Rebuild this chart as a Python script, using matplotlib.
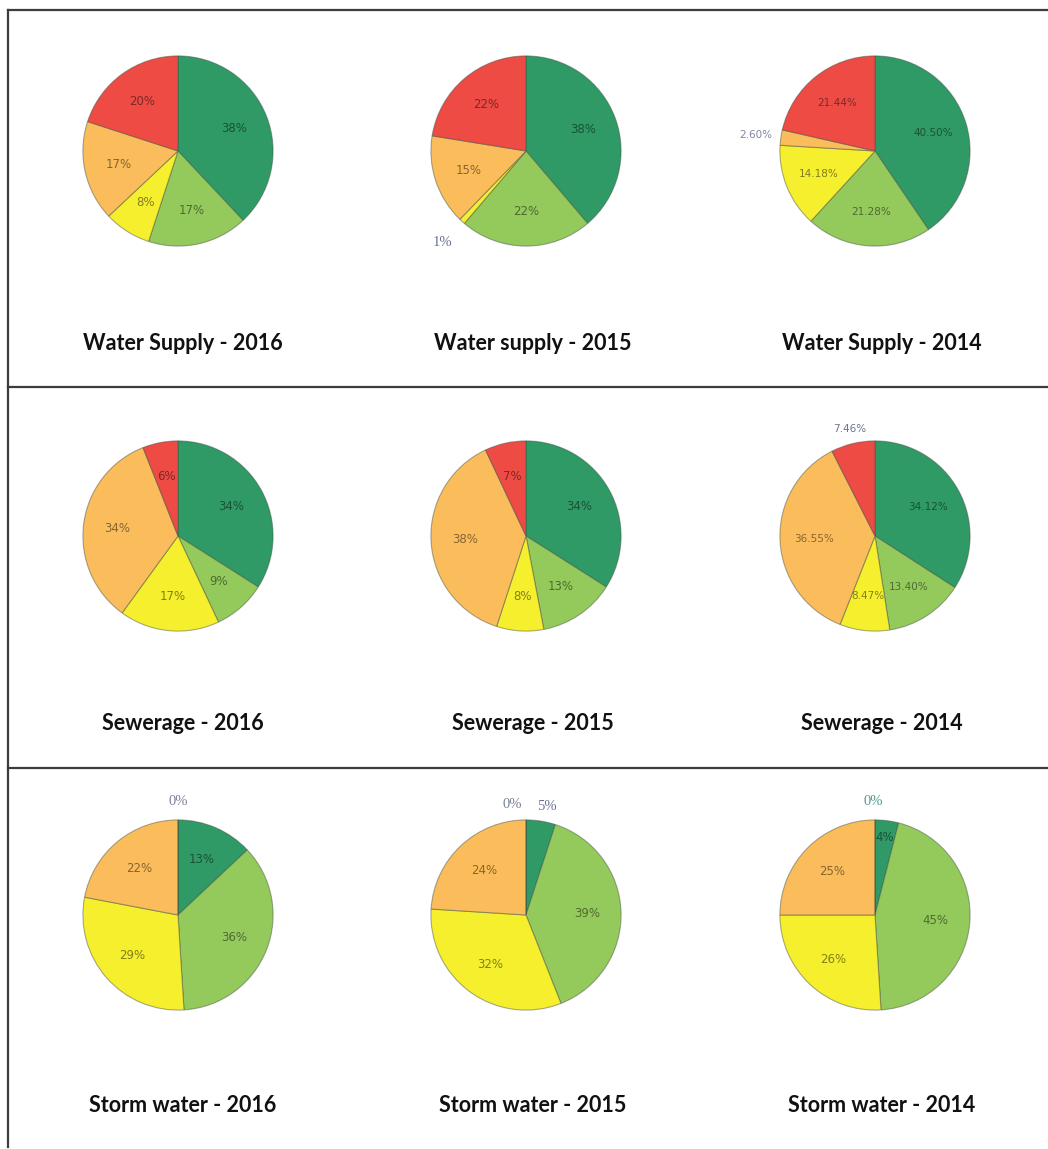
import numpy as np
import matplotlib
matplotlib.use('Agg')
import matplotlib.pyplot as plt
from matplotlib.lines import Line2D
from matplotlib.colors import to_rgb

# datos (orden de las porciones: verde oscuro, verde claro, amarillo, naranja, rojo)
ws_2016 = [38, 17, 8, 17, 20]
ws_2015 = [38, 22, 1, 15, 22]
ws_2014 = [40.50, 21.28, 14.18, 2.60, 21.44]

sew_2016 = [34, 9, 17, 34, 6]
sew_2015 = [34, 13, 8, 38, 7]
sew_2014 = [34.12, 13.40, 8.47, 36.55, 7.46]

storm_2016 = [13, 36, 29, 22, 0]
storm_2015 = [5, 39, 32, 24, 0]
storm_2014 = [4, 45, 26, 25, 0]

titles = [['Water Supply - 2016', 'Water supply - 2015', 'Water Supply - 2014'],
          ['Sewerage - 2016', 'Sewerage - 2015', 'Sewerage - 2014'],
          ['Storm water - 2016', 'Storm water - 2015', 'Storm water - 2014']]
values = [[ws_2016, ws_2015, ws_2014],
          [sew_2016, sew_2015, sew_2014],
          [storm_2016, storm_2015, storm_2014]]
decimals = [[0, 0, 2], [0, 0, 2], [0, 0, 0]]

colors = ['#2f9a66', '#94c95c', '#f5ef2e', '#fbbd5c', '#ee4b45']

# ---------------- layout (pixeles) ----------------
W, H = 1048, 1149
col_x = [178, 526, 875]
row_y = [151, 536, 915]
title_y = [344, 724, 1106]
title_x = [183, 533, 882]
R = 97

# etiquetas fuera de la torta: (fila, col) -> {indice: (distancia, corrimiento_x px, color)}
outside = {
    (0, 1): {2: (1.30, 0, '#6b7394')},
    (0, 2): {3: (1.22, -4, '#7f86a0')},
    (1, 2): {4: (1.16, 0, '#6b7394')},
    (2, 0): {4: (1.19, 0, '#7b8298')},
    (2, 1): {0: (1.16, 4, '#6b7394'), 4: (1.16, -14, '#7b8298')},
    (2, 2): {4: (1.19, -2, '#4f9a8c')},
}
# etiquetas internas con otra distancia
inside_dist = {(2, 2): {0: 0.82}}


def darker(c, f=0.45):
    r, g, b = to_rgb(c)
    return (r * f, g * f, b * f)


fig = plt.figure(figsize=(W / 100, H / 100), dpi=100)
fig.patch.set_facecolor('white')

for i in range(3):
    for j in range(3):
        cx, cy = col_x[j], row_y[i]
        ax = fig.add_axes([(cx - R) / W, 1 - (cy + R) / H, 2 * R / W, 2 * R / H])
        vals = values[i][j]
        wedges, _ = ax.pie(vals, colors=colors, startangle=90, counterclock=False,
                           radius=1,
                           wedgeprops=dict(edgecolor=(0.25, 0.3, 0.25, 0.45), linewidth=0.8))
        ax.set_xlim(-1.02, 1.02)
        ax.set_ylim(-1.02, 1.02)
        ax.set_axis_off()

        fmt = '{:.%df}%%' % decimals[i][j]
        out = outside.get((i, j), {})
        ind = inside_dist.get((i, j), {})
        for k, w in enumerate(wedges):
            ang = np.deg2rad((w.theta1 + w.theta2) / 2)
            lab = fmt.format(vals[k])
            if k in out:
                d, nud, col = out[k]
                x = d * np.cos(ang) + nud / R
                y = d * np.sin(ang)
                fam = 'Liberation Serif' if decimals[i][j] == 0 else 'DejaVu Sans'
                fs = 10.5 if decimals[i][j] == 0 else 7.5
                ax.text(x, y, lab, ha='center', va='center', fontsize=fs,
                        color=col, family=fam)
            else:
                d = ind.get(k, 0.64)
                x = d * np.cos(ang)
                y = d * np.sin(ang)
                ax.text(x, y, lab, ha='center', va='center',
                        fontsize=8.5 if decimals[i][j] == 0 else 7.5,
                        color=darker(colors[k]), alpha=0.85)

        fig.text(title_x[j] / W, 1 - title_y[i] / H, titles[i][j], ha='center',
                 va='center', fontsize=15.5, fontweight='bold', family='Lato',
                 color='#111111')

# ---------------- marco ----------------
lc = '#3c3c3c'
fig.add_artist(Line2D([8 / W, 1], [1 - 10 / H] * 2, transform=fig.transFigure,
                      color=lc, lw=1.6))
fig.add_artist(Line2D([8 / W, 8 / W], [1 - 10 / H, 1 - 1147 / H],
                      transform=fig.transFigure, color=lc, lw=1.6))
for yy in [387, 768]:
    fig.add_artist(Line2D([8 / W, 1], [1 - yy / H] * 2, transform=fig.transFigure,
                          color=lc, lw=1.6))

fig.savefig('out.png', dpi=100)
